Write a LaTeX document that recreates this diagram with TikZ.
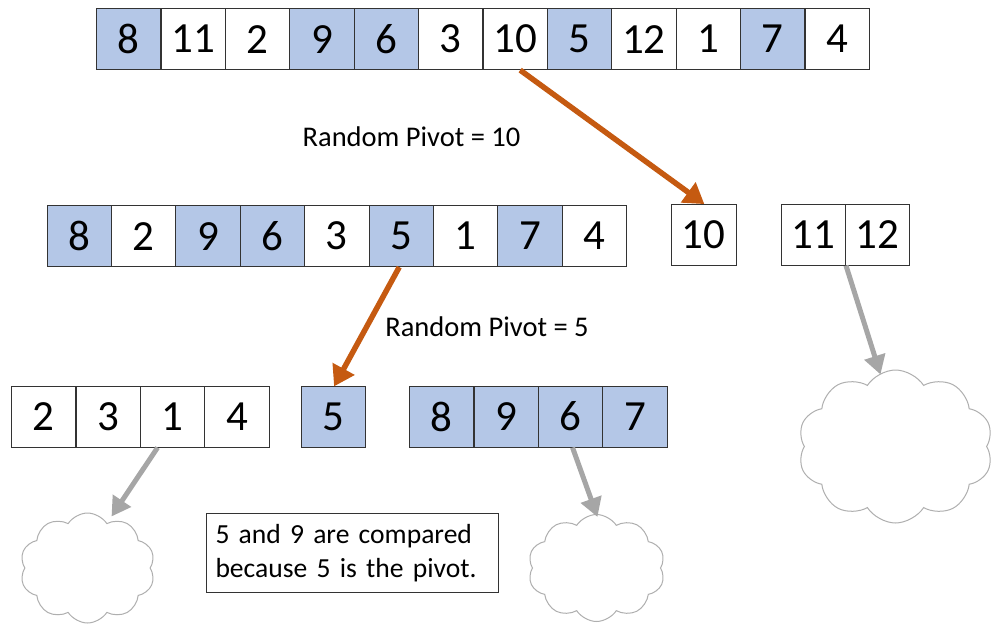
\documentclass[tikz,border=0pt]{standalone}
\usepackage{fontspec}
\setmainfont{Carlito}
\usetikzlibrary{arrows.meta,shapes.symbols,calc}
\definecolor{cellblue}{HTML}{B4C7E7}
\definecolor{pivotorange}{HTML}{C55A11}
\definecolor{callgray}{HTML}{A6A6A6}
\definecolor{cloudgray}{HTML}{AFAFAF}
\tikzset{
  cell/.style={draw=black!80, line width=1.1pt, minimum width=64.4pt, minimum height=61pt,
    inner sep=0pt, anchor=north west, font=\fontsize{43}{50}\selectfont},
  hl/.style={fill=cellblue},
  pl/.style={fill=white},
  label/.style={font=\fontsize{28.5}{34.5}\selectfont, inner sep=0pt},
  pivotarrow/.style={draw=pivotorange, line width=5.5pt,
    -{Triangle[length=20pt,width=24pt]}, shorten >=-1pt},
  recarrow/.style={draw=callgray, line width=5pt,
    -{Triangle[length=19pt,width=21pt]}},
  subcall/.style={cloud, cloud puffs=10, cloud puff arc=115, cloud ignores aspect,
    draw=cloudgray, line width=1pt, fill=white, inner sep=0pt}
}
\begin{document}
\begin{tikzpicture}[x=1pt,y=-1pt]
\useasboundingbox (0,0) rectangle (997,635);

% full array
\foreach \v/\s [count=\i] in {8/hl,11/pl,2/pl,9/hl,6/hl,3/pl,10/pl,5/hl,12/pl,1/pl,7/hl,4/pl}
  \node[cell,\s] (t\i) at ({96+(\i-1)*64.4},8) {\v};

\node[label] (lab1) at (411.5,137) {Random Pivot = 10};

% first partition
\foreach \v/\s [count=\i] in {8/hl,2/pl,9/hl,6/hl,3/pl,5/hl,1/pl,7/hl,4/pl}
  \node[cell,\s] (m\i) at ({46.5+(\i-1)*64.4},205) {\v};
\node[cell,pl,minimum width=65pt] (p10) at (670.5,203.5) {10};
\node[cell,pl] (r1) at (780.5,203.5) {11};
\node[cell,pl] (r2) at (844.9,203.5) {12};

\node[label] (lab2) at (487,327) {Random Pivot = 5};

% second partition
\foreach \v/\s [count=\i] in {2/pl,3/pl,1/pl,4/pl}
  \node[cell,\s] (b\i) at ({11+(\i-1)*64.4},385.5) {\v};
\node[cell,hl] (p5) at (300.8,385.5) {5};
\foreach \v/\s [count=\i] in {8/hl,9/hl,6/hl,7/hl}
  \node[cell,\s] (g\i) at ({409+(\i-1)*64.4},385.5) {\v};

% recursive calls
\node[subcall, minimum width=135pt, minimum height=110pt] (c1) at (87.5,568) {};
\node[subcall, minimum width=137pt, minimum height=107pt] (c2) at (596.5,568) {};
\node[subcall, minimum width=195pt, minimum height=153pt] (c3) at (895.5,446.5) {};

% note
\node[draw=black!80, line width=1pt, anchor=north west, minimum width=292pt, minimum height=79pt,
  inner xsep=9pt, inner ysep=0pt, align=left, font=\fontsize{27.6}{34.5}\selectfont,
  text width=274pt] (note) at (206,513) {5 and 9 are compared\\because 5 is the pivot.};

% connectors
\draw[pivotarrow] ([xshift=5pt]t7.south) -- (p10.north);
\draw[pivotarrow] ([xshift=-2pt]m6.south) -- ([xshift=1pt]p5.north);
\draw[recarrow] ([xshift=-15pt]b3.south) -- ([xshift=24pt,yshift=-4pt]c1.north);
\draw[recarrow] ([xshift=2pt]g3.south) -- ([xshift=1pt,yshift=-3pt]c2.north);
\draw[recarrow] ([xshift=0pt]r1.south east) -- ([xshift=-15pt,yshift=-5pt]c3.north);
\end{tikzpicture}
\end{document}
